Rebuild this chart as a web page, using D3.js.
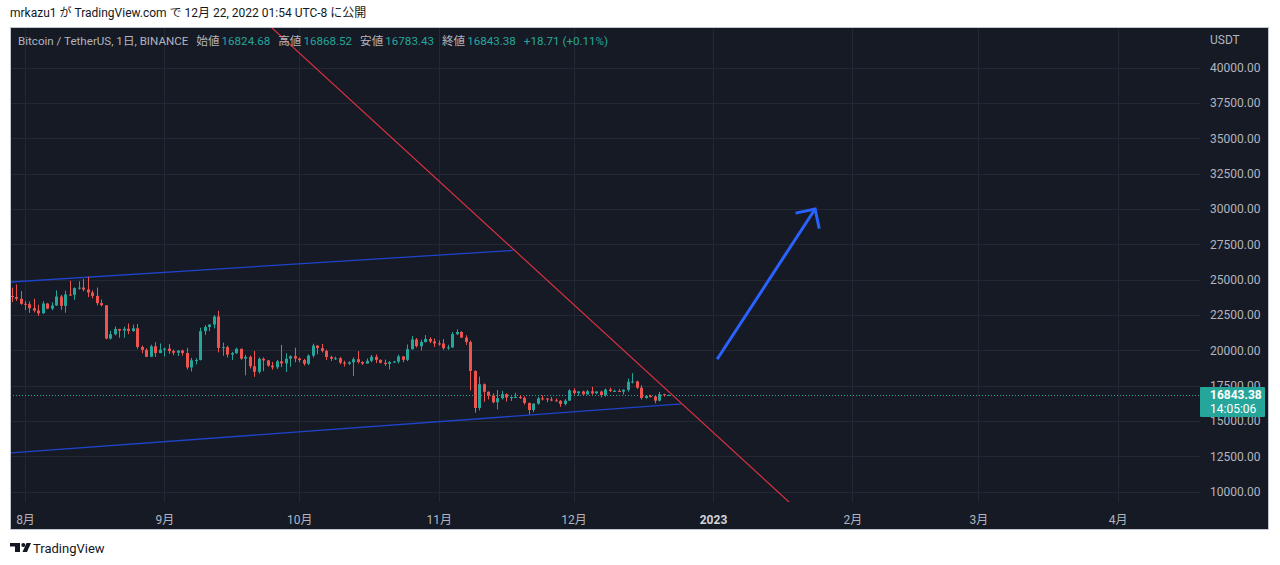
<!DOCTYPE html>
<html lang="ja">
<head>
    <meta charset="UTF-8">
    <title>BTCUSDT 1日</title>
    <script src="https://cdnjs.cloudflare.com/ajax/libs/d3/7.8.5/d3.min.js"></script>
    <style>
        body { margin: 0; background: #ffffff; }
        svg text { font-family: Roboto, "Noto Sans CJK JP", sans-serif; }
        .grid line { stroke: #242834; stroke-width: 1; shape-rendering: crispEdges; }
        .axis-label { fill: #b2b5be; font-size: 12px; }
    </style>
</head>
<body>
<div id="chart"></div>
<script>
    // Daily candles, BINANCE BTCUSDT, starting 2022-07-29
    const firstDay = "2022-07-29";
    const openPrices = [
        23845, 23774, 23644, 23297, 23268, 22986, 22818, 22622, 23313, 22954,
        23175, 23810, 23151, 23955, 23934, 24402, 24442, 24305, 24094, 23856,
        23342, 23191, 20835, 21141, 21516, 21400, 21529, 21368, 21560, 20240,
        20037, 19550, 20285, 19811, 20050, 20127, 19953, 19832, 19988, 19812,
        18790, 19292, 19320, 21361, 21652, 21826, 22395, 20174, 20227, 19702,
        19803, 20112, 19417, 19538, 18875, 18484, 19404, 19289, 18921, 18803,
        19222, 19080, 19413, 19591, 19423, 19313, 19056, 19629, 20337, 20158,
        19961, 19530, 19417, 19439, 19131, 19060, 19155, 19375, 19176, 19069,
        19262, 19549, 19328, 19124, 19041, 19165, 19205, 19570, 19331, 20080,
        20772, 20295, 20591, 20809, 20627, 20491, 20483, 20152, 20208, 21149,
        21300, 20905, 20591, 18542, 15922, 17602, 17071, 16812, 16330, 16620,
        16900, 16663, 16692, 16700, 16634, 16283, 15781, 16227, 16603, 16598,
        16522, 16458, 16428, 16212, 16442, 17165, 16978, 17092, 16886, 17105,
        16967, 17089, 16836, 17224, 17128, 17128, 17086, 17209, 17775, 17804,
        17357, 16632, 16777, 16739, 16438, 16896, 16824.68
    ];
    const highPrices = [
        24442, 24668, 24194, 23509, 23466, 23648, 23227, 23472, 23354, 23400,
        24245, 23925, 24226, 24918, 24457, 24888, 25047, 25212, 24247, 24446,
        23600, 23203, 21383, 21692, 21522, 21680, 21900, 21820, 21866, 20340,
        20150, 20400, 20580, 20490, 20198, 20444, 20055, 20000, 20058, 20180,
        19464, 19450, 21600, 21791, 21860, 22488, 22799, 20541, 20330, 19891,
        20189, 20117, 19686, 19635, 19956, 19500, 19500, 19316, 19180, 19316,
        20385, 19790, 19645, 20185, 19485, 19395, 19719, 20475, 20365, 20456,
        20056, 19620, 19559, 19525, 19268, 19225, 19513, 19951, 19227, 19425,
        19676, 19706, 19360, 19347, 19250, 19257, 19695, 19601, 20415, 21020,
        20875, 20750, 21085, 20931, 20840, 20700, 20800, 20393, 21302, 21480,
        21365, 21070, 20700, 18587, 18150, 17660, 17095, 16955, 17190, 17134,
        16960, 16745, 16999, 16820, 16745, 16289, 16253, 16706, 16812, 16599,
        16701, 16600, 16483, 16548, 17249, 17320, 17105, 17150, 17202, 17424,
        17107, 17142, 17299, 17360, 17227, 17266, 17241, 18000, 18387, 17847,
        17531, 16800, 16863, 16815, 17061, 16925, 16868.52
    ];
    const lowPrices = [
        23414, 23502, 23227, 22850, 22654, 22681, 22435, 22587, 22909, 22841,
        23155, 22865, 22664, 23853, 23580, 24291, 24177, 23773, 23671, 23181,
        23108, 20783, 20761, 21060, 20890, 20890, 21150, 21310, 20110, 19800,
        19521, 19550, 19540, 19800, 19565, 19754, 19655, 19600, 19633, 18650,
        18510, 19000, 19290, 21100, 21362, 21558, 19860, 19618, 19497, 19320,
        19748, 19336, 18232, 18711, 18125, 18356, 18531, 18842, 18630, 18680,
        18816, 18471, 18843, 19155, 19160, 18920, 18959, 19491, 19730, 19853,
        19320, 19250, 19320, 19020, 18860, 18966, 18190, 19070, 18975, 19063,
        19160, 19097, 19072, 18900, 18650, 19112, 19070, 19160, 19240, 20055,
        20200, 20000, 20552, 20511, 20237, 20330, 20048, 20033, 20180, 21080,
        20880, 20386, 17166, 15589, 15754, 16361, 16527, 16250, 15815, 16527,
        16378, 16420, 16631, 16560, 16160, 15476, 15630, 16160, 16458, 16333,
        16400, 16400, 16000, 16100, 16428, 16855, 16787, 16867, 16878, 16867,
        16906, 16678, 16733, 17058, 17092, 17071, 16873, 17080, 17660, 17275,
        16527, 16585, 16667, 16256, 16397, 16726, 16783.43
    ];
    const closePrices = [
        23774, 23643, 23293, 23268, 22987, 22818, 22622, 23313, 22954, 23175,
        23810, 23149, 23954, 23935, 24403, 24442, 24305, 24094, 23855, 23342,
        23191, 20834, 21140, 21516, 21400, 21529, 21368, 21560, 20241, 20037,
        19550, 20285, 19811, 20050, 20127, 19952, 19832, 19986, 19812, 18790,
        19292, 19320, 21361, 21652, 21826, 22396, 20174, 20227, 19701, 19804,
        20113, 19417, 19537, 18876, 18484, 19404, 19289, 18920, 18803, 19222,
        19080, 19412, 19591, 19422, 19311, 19056, 19629, 20337, 20158, 19960,
        19531, 19417, 19439, 19131, 19060, 19155, 19375, 19176, 19069, 19262,
        19549, 19328, 19123, 19041, 19164, 19205, 19570, 19330, 20081, 20772,
        20295, 20591, 20809, 20627, 20491, 20483, 20152, 20208, 21148, 21300,
        20905, 20592, 18541, 15922, 17602, 17071, 16812, 16330, 16620, 16900,
        16663, 16692, 16700, 16634, 16283, 15781, 16227, 16603, 16598, 16522,
        16458, 16428, 16212, 16442, 17163, 16977, 17092, 16885, 17105, 16966,
        17089, 16836, 17224, 17128, 17128, 17086, 17209, 17775, 17803, 17356,
        16633, 16776, 16739, 16438, 16895, 16824, 16843.38
    ];

    const priceTicks = [10000, 12500, 15000, 17500, 20000, 22500, 25000, 27500, 30000, 32500, 35000, 37500, 40000];
    const monthTicks = ["2022-08-01", "2022-09-01", "2022-10-01", "2022-11-01", "2022-12-01", "2023-01-01", "2023-02-01", "2023-03-01", "2023-04-01"];
    const monthLabels = ["8月", "9月", "10月", "11月", "12月", "2023", "2月", "3月", "4月"];

    // Drawings on the chart: [date, price]
    const upperChannel = [["2022-07-28", 24820], ["2022-11-17T12:00", 27070]];
    const lowerChannel = [["2022-07-28", 12725], ["2022-12-25", 16207]];
    const downTrend = [["2022-09-20", 44250], ["2023-01-25", 7200]];
    const arrowPath = [["2023-01-01T22:00", 19370], ["2023-01-23T17:00", 30000]];

    // Legend row
    const legendTitle = "Bitcoin / TetherUS, 1日, BINANCE";
    const legendNames = ["始値", "高値", "安値", "終値"];
    const legendValues = ["16824.68", "16868.52", "16783.43", "16843.38"];
    const legendChange = "+18.71 (+0.11%)";

    const lastPrice = 16843.38;
    const countdown = "14:05:06";

    const W = 1280, H = 565;
    const pane = {left: 10, right: 1200, top: 27, bottom: 502, axisRight: 1269, axisBottom: 530};

    const svg = d3.select("#chart")
        .append("svg")
        .attr("width", W)
        .attr("height", H);

    svg.append("rect").attr("width", W).attr("height", H).attr("fill", "#ffffff");

    // Publisher line
    svg.append("text")
        .attr("x", 10)
        .attr("y", 17)
        .attr("fill", "#131722")
        .style("font-size", "12px")
        .text("mrkazu1 が TradingView.com で 12月 22, 2022 01:54 UTC-8 に公開");

    // Dark chart panel
    svg.append("rect")
        .attr("x", pane.left + 0.5)
        .attr("y", pane.top + 0.5)
        .attr("width", pane.axisRight - pane.left - 1)
        .attr("height", pane.axisBottom - pane.top - 1)
        .attr("fill", "#161a25")
        .attr("stroke", "#c3c6ce");

    const parseDay = d3.utcParse("%Y-%m-%d");
    const parseDate = s => s.length > 10 ? d3.utcParse("%Y-%m-%dT%H:%M")(s) : parseDay(s);

    const x = d3.scaleUtc()
        .domain([parseDay("2022-08-01"), parseDay("2023-01-01")])
        .range([25, 713]);

    const y = d3.scaleLinear()
        .domain([10000, 40000])
        .range([491.7, 67.7]);

    const start = parseDay(firstDay);
    const candles = closePrices.map((c, i) => ({
        date: d3.utcDay.offset(start, i),
        open: openPrices[i],
        high: highPrices[i],
        low: lowPrices[i],
        close: c
    }));

    svg.append("clipPath").attr("id", "pane-clip")
        .append("rect")
        .attr("x", pane.left + 1)
        .attr("y", pane.top + 1)
        .attr("width", pane.right - pane.left - 1)
        .attr("height", pane.bottom - pane.top - 1);

    // Grid
    svg.append("g")
        .attr("class", "grid")
        .attr("transform", `translate(0,${pane.bottom})`)
        .call(d3.axisBottom(x)
            .tickValues(monthTicks.map(parseDay))
            .tickSize(-(pane.bottom - pane.top - 1))
            .tickFormat(""))
        .call(g => g.select(".domain").remove());

    svg.append("g")
        .attr("class", "grid")
        .attr("transform", `translate(${pane.right},0)`)
        .call(d3.axisLeft(y)
            .tickValues(priceTicks)
            .tickSize(pane.right - pane.left - 1)
            .tickFormat(""))
        .call(g => g.select(".domain").remove());

    const plot = svg.append("g").attr("clip-path", "url(#pane-clip)");

    // Current price dotted line
    plot.append("line")
        .attr("x1", pane.left)
        .attr("x2", pane.right)
        .attr("y1", Math.round(y(lastPrice)) + 0.5)
        .attr("y2", Math.round(y(lastPrice)) + 0.5)
        .attr("stroke", "#26a69a")
        .attr("stroke-dasharray", "1,2");

    // Channel lines
    const line = d3.line()
        .x(d => x(parseDate(d[0])))
        .y(d => y(d[1]));

    [upperChannel, lowerChannel].forEach(pts => {
        plot.append("path")
            .attr("d", line(pts))
            .attr("fill", "none")
            .attr("stroke", "#1f44c9")
            .attr("stroke-width", 1.3);
    });

    // Candles
    const upColor = "#26a69a", downColor = "#ef5350";
    const candleG = plot.selectAll(".candle")
        .data(candles)
        .enter().append("g")
        .attr("class", "candle");

    candleG.append("line")
        .attr("x1", d => Math.round(x(d.date)) + 0.5)
        .attr("x2", d => Math.round(x(d.date)) + 0.5)
        .attr("y1", d => y(d.high))
        .attr("y2", d => y(d.low))
        .attr("stroke", d => d.close >= d.open ? upColor : downColor);

    candleG.append("rect")
        .attr("x", d => Math.round(x(d.date)) - 1)
        .attr("width", 3)
        .attr("y", d => y(Math.max(d.open, d.close)))
        .attr("height", d => Math.max(1, Math.abs(y(d.open) - y(d.close))))
        .attr("fill", d => d.close >= d.open ? upColor : downColor);

    // Red trend line
    plot.append("path")
        .attr("d", line(downTrend))
        .attr("fill", "none")
        .attr("stroke", "#e8323f")
        .attr("stroke-width", 1.1);

    // Blue arrow
    const tail = [x(parseDate(arrowPath[0][0])), y(arrowPath[0][1])];
    const tip = [x(parseDate(arrowPath[1][0])), y(arrowPath[1][1])];
    const ang = Math.atan2(tail[1] - tip[1], tail[0] - tip[0]);
    const headLen = 20, spread = Math.PI / 4;
    const armA = [tip[0] + headLen * Math.cos(ang - spread), tip[1] + headLen * Math.sin(ang - spread)];
    const armB = [tip[0] + headLen * Math.cos(ang + spread), tip[1] + headLen * Math.sin(ang + spread)];

    plot.append("path")
        .attr("d", d3.line()([tail, tip]))
        .attr("fill", "none")
        .attr("stroke", "#2962ff")
        .attr("stroke-width", 3);

    plot.append("path")
        .attr("d", d3.line()([armA, tip, armB]))
        .attr("fill", "none")
        .attr("stroke", "#2962ff")
        .attr("stroke-width", 3)
        .attr("stroke-linejoin", "miter");

    // Price axis
    const yAxis = svg.append("g")
        .attr("transform", `translate(${pane.right},0)`)
        .call(d3.axisRight(y)
            .tickValues(priceTicks)
            .tickSize(0)
            .tickPadding(10)
            .tickFormat(d3.format(".2f")));
    yAxis.select(".domain").remove();
    yAxis.selectAll("text")
        .attr("class", "axis-label")
        .attr("fill", "#b2b5be")
        .style("font-size", "12px");

    svg.append("text")
        .attr("class", "axis-label")
        .attr("x", pane.right + 10)
        .attr("y", 44)
        .text("USDT");

    // Last price badge
    const badgeY = y(lastPrice);
    svg.append("rect")
        .attr("x", pane.right)
        .attr("y", badgeY - 8)
        .attr("width", 65)
        .attr("height", 30)
        .attr("rx", 1)
        .attr("fill", "#26a69a");
    svg.append("text")
        .attr("x", pane.right + 10)
        .attr("y", badgeY + 4.5)
        .attr("fill", "#ffffff")
        .style("font-size", "12px")
        .style("font-weight", "bold")
        .text(d3.format(".2f")(lastPrice));
    svg.append("text")
        .attr("x", pane.right + 10)
        .attr("y", badgeY + 18)
        .attr("fill", "#ffffff")
        .style("font-size", "12px")
        .text(countdown);

    // Time axis
    const xAxis = svg.append("g")
        .attr("transform", `translate(0,${pane.bottom})`)
        .call(d3.axisBottom(x)
            .tickValues(monthTicks.map(parseDay))
            .tickSize(0)
            .tickPadding(13)
            .tickFormat((d, i) => monthLabels[i]));
    xAxis.select(".domain").remove();
    xAxis.selectAll("text")
        .attr("fill", (d, i) => monthLabels[i] === "2023" ? "#d1d4dc" : "#b2b5be")
        .style("font-weight", (d, i) => monthLabels[i] === "2023" ? "bold" : "normal")
        .style("font-size", "12px");

    // Legend line, laid out piece by piece so nothing overlaps
    const legend = svg.append("text")
        .attr("x", 18)
        .attr("y", 45)
        .style("font-size", "11.6px");
    legend.append("tspan").attr("fill", "#b2b5be").text(legendTitle);
    legendNames.forEach((name, i) => {
        legend.append("tspan").attr("dx", 8).attr("fill", "#b2b5be").text(name);
        legend.append("tspan").attr("dx", 2).attr("fill", "#26a69a").text(legendValues[i]);
    });
    legend.append("tspan").attr("dx", 8).attr("fill", "#26a69a").text(legendChange);

    // Footer logo
    const logo = svg.append("g").attr("fill", "#131722");
    logo.append("rect").attr("x", 10).attr("y", 543).attr("width", 10).attr("height", 3.5);
    logo.append("rect").attr("x", 15).attr("y", 543).attr("width", 5).attr("height", 9);
    logo.append("circle").attr("cx", 23.3).attr("cy", 545).attr("r", 2);
    logo.append("path").attr("d", "M26.5,543 L31,543 L27,552 L22.5,552 Z");
    svg.append("text")
        .attr("x", 33)
        .attr("y", 552.5)
        .attr("fill", "#131722")
        .style("font-size", "13px")
        .text("TradingView");
</script>
</body>
</html>
